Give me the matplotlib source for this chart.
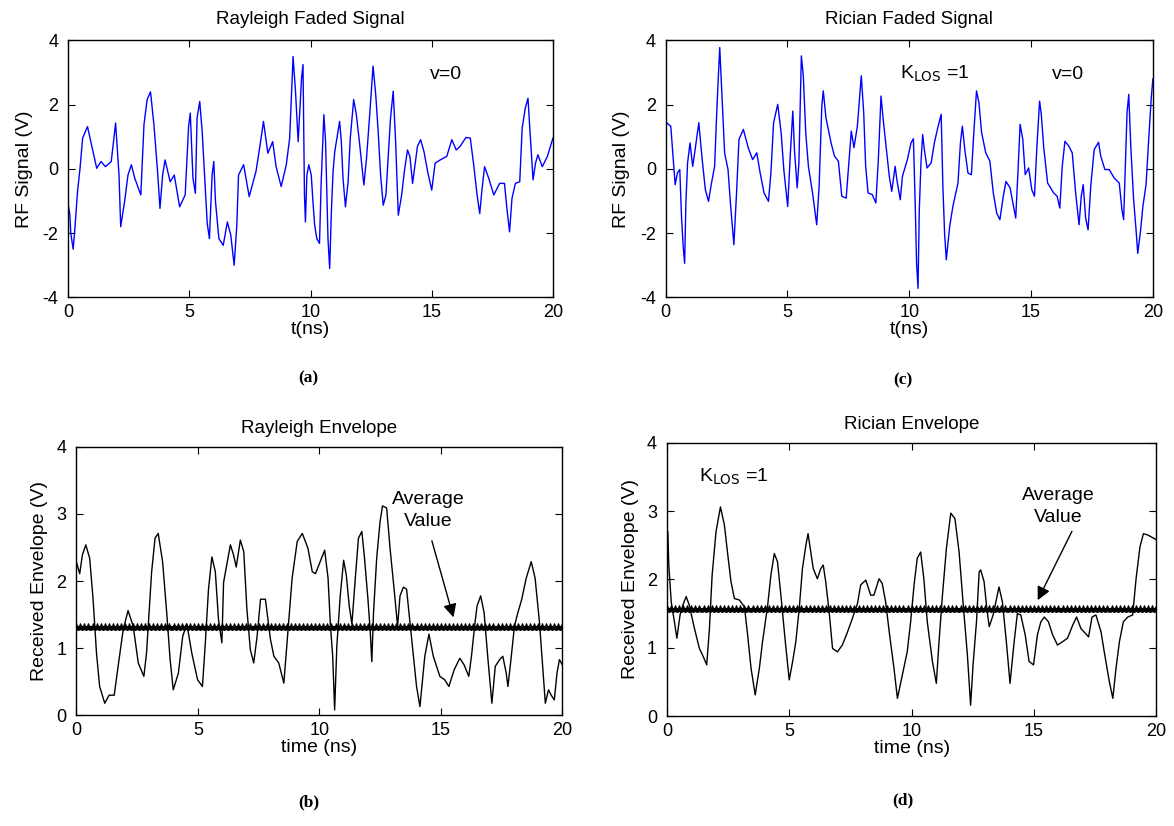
import numpy as np
import matplotlib.pyplot as plt

# ---------------- data ----------------
# (a) Rayleigh faded RF signal, v=0
ray_sig_t = [0.0, 0.07, 0.11, 0.21, 0.29, 0.39, 0.49, 0.6, 0.8, 1.01, 1.18, 1.36, 1.54, 1.78,
             1.96, 2.01, 2.1, 2.17, 2.33, 2.47, 2.61, 2.75, 3.0, 3.13, 3.26, 3.4, 3.54, 3.69,
             3.79, 3.9, 4.0, 4.21, 4.38, 4.6, 4.83, 4.97, 5.04, 5.15, 5.25, 5.32, 5.43, 5.53,
             5.74, 5.83, 5.94, 6.01, 6.08, 6.22, 6.4, 6.57, 6.71, 6.85, 6.96, 7.03, 7.24, 7.47,
             7.75, 7.92, 8.06, 8.24, 8.44, 8.58, 8.79, 9.0, 9.14, 9.28, 9.38, 9.49, 9.63, 9.69,
             9.75, 9.79, 9.85, 9.93, 10.03, 10.1, 10.17, 10.26, 10.37, 10.44, 10.51, 10.55,
             10.62, 10.72, 10.79, 10.86, 10.93, 11.0, 11.09, 11.2, 11.27, 11.34, 11.44, 11.55,
             11.64, 11.78, 11.89, 12.03, 12.2, 12.31, 12.45, 12.58, 12.69, 12.79, 12.89, 13.0,
             13.11, 13.21, 13.3, 13.41, 13.51, 13.62, 13.76, 13.87, 14.0, 14.1, 14.21, 14.31,
             14.41, 14.54, 14.68, 14.83, 15.0, 15.14, 15.35, 15.62, 15.83, 16.01, 16.17, 16.41,
             16.59, 16.73, 16.87, 16.98, 17.07, 17.18, 17.35, 17.56, 17.8, 18.0, 18.1, 18.21,
             18.31, 18.45, 18.63, 18.73, 18.86, 18.97, 19.07, 19.18, 19.28, 19.38, 19.56,
             19.77, 20.0]
ray_sig_v = [-1.1, -1.4, -2.0, -2.5, -1.75, -0.7, 0.0, 0.96, 1.32, 0.6, 0.02, 0.23, 0.07, 0.23,
             1.43, 0.85, -0.19, -1.8, -1.02, -0.19, 0.13, -0.29, -0.81, 1.38, 2.16, 2.4, 1.38,
             -0.08, -1.23, -0.19, 0.28, -0.4, -0.19, -1.18, -0.81, 1.32, 1.74, -0.29, -0.76,
             1.58, 2.1, 1.17, -1.7, -2.17, -0.19, 0.23, -1.02, -2.17, -2.38, -1.65, -2.06, -3.0,
             -1.75, -0.19, 0.13, -0.86, -0.08, 0.75, 1.48, 0.49, 0.85, 0.07, -0.55, 0.13, 0.96,
             3.5, 2.42, 0.85, 2.83, 3.25, -0.81, -1.65, -0.19, 0.13, -0.19, -1.02, -1.75,
             -2.17, -2.32, -0.4, 0.96, 1.69, 0.85, -2.17, -3.1, -1.33, -0.08, 0.54, 0.96, 1.48,
             0.85, -0.29, -1.18, -0.4, 0.96, 2.16, 1.69, 0.75, -0.5, 0.33, 1.79, 3.2, 2.31, 1.17,
             -0.19, -1.13, -0.81, 0.44, 1.58, 2.42, 0.85, -1.44, -0.81, -0.08, 0.59, 0.39, -0.45,
             0.13, 0.7, 0.91, 0.54, -0.08, -0.66, 0.18, 0.28, 0.39, 0.91, 0.59, 0.7, 0.98, 0.96,
             0.13, -0.81, -1.39, -0.66, 0.07, -0.29, -0.81, -0.45, -0.45, -1.23, -1.96, -0.92,
             -0.45, -0.4, 1.27, 1.9, 2.2, 0.96, -0.34, 0.18, 0.44, 0.07, 0.39, 0.96]

# (c) Rician faded RF signal, K_LOS=1, v=0
ric_sig_t = [0.0, 0.21, 0.3, 0.39, 0.48, 0.58, 0.65, 0.72, 0.78, 0.83, 0.9, 1.0, 1.11, 1.22,
             1.36, 1.5, 1.63, 1.76, 1.87, 2.01, 2.11, 2.22, 2.31, 2.42, 2.56, 2.67, 2.8, 2.91,
             3.01, 3.19, 3.39, 3.57, 3.74, 3.88, 4.04, 4.22, 4.32, 4.43, 4.6, 4.74, 4.85, 5.01,
             5.12, 5.22, 5.29, 5.4, 5.47, 5.57, 5.65, 5.75, 5.86, 6.03, 6.2, 6.3, 6.41, 6.47,
             6.58, 6.79, 6.93, 7.09, 7.23, 7.41, 7.51, 7.62, 7.73, 7.87, 8.03, 8.13, 8.21, 8.31,
             8.48, 8.63, 8.73, 8.84, 8.93, 9.07, 9.18, 9.28, 9.42, 9.49, 9.63, 9.72, 9.93,
             10.07, 10.17, 10.25, 10.3, 10.36, 10.41, 10.48, 10.55, 10.62, 10.73, 10.9, 11.03,
             11.17, 11.31, 11.38, 11.45, 11.52, 11.66, 11.79, 12.0, 12.1, 12.18, 12.28, 12.41,
             12.55, 12.65, 12.76, 12.86, 12.97, 13.14, 13.31, 13.45, 13.59, 13.72, 13.86, 13.97,
             14.14, 14.28, 14.37, 14.46, 14.55, 14.66, 14.76, 14.9, 15.03, 15.14, 15.24, 15.35,
             15.42, 15.52, 15.68, 15.93, 16.07, 16.18, 16.28, 16.39, 16.55, 16.69, 16.83, 16.97,
             17.06, 17.14, 17.24, 17.34, 17.45, 17.59, 17.77, 17.86, 18.03, 18.21, 18.41, 18.62,
             18.73, 18.8, 18.87, 18.94, 19.01, 19.1, 19.21, 19.31, 19.38, 19.49, 19.59, 19.72,
             19.82, 19.93, 20.0]
ric_sig_v = [1.46, 1.33, 0.4, -0.49, -0.13, -0.02, -1.48, -2.42, -2.94, -1.06, 0.19, 0.81, 0.08,
             0.66, 1.44, 0.29, -0.65, -1.01, -0.49, 0.08, 2.01, 3.78, 2.27, 0.5, -0.02, -1.17,
             -2.36, -0.75, 0.92, 1.23, 0.66, 0.29, 0.5, -0.13, -0.75, -1.01, -0.13, 1.44, 2.01,
             1.13, -0.02, -1.17, 0.5, 1.8, 0.55, -0.59, 0.19, 3.52, 2.9, 1.13, 0.08, -0.75, -1.74,
             -0.54, 1.96, 2.43, 1.59, 0.81, 0.4, 0.24, -0.85, -0.91, 0.08, 1.18, 0.66, 1.33, 2.9,
             1.75, 0.08, -0.75, -0.8, -1.06, 0.29, 2.27, 1.54, 0.55, -0.23, -0.7, 0.08, -0.33,
             -0.96, -0.23, 0.31, 0.81, 0.94, -1.27, -2.94, -3.72, -1.32, 0.19, 1.07, 0.6, 0.03,
             0.19, 0.81, 1.28, 1.7, -0.54, -2.0, -2.83, -1.79, -1.17, -0.44, 0.81, 1.33, 0.6,
             -0.13, -0.18, 1.13, 2.43, 2.06, 1.13, 0.5, 0.24, -0.75, -1.38, -1.58, -0.85, -0.39,
             -0.59, -1.17, -1.53, -0.13, 1.39, 0.92, -0.18, 0.03, -0.65, -0.85, 0.71, 2.11, 1.7,
             0.66, -0.44, -0.75, -0.85, -1.22, 0.08, 0.86, 0.71, 0.5, -0.75, -1.74, -0.85, -0.49,
             -1.53, -1.9, -0.54, 0.6, 0.83, 0.4, -0.02, -0.02, -0.28, -0.44, -1.27, -1.58, 0.08,
             1.75, 2.32, 0.6, -0.96, -1.9, -2.63, -1.95, -1.17, -0.49, 0.81, 2.17, 2.8]

# (b) Rayleigh envelope
ray_env_t = [0.0, 0.14, 0.25, 0.39, 0.55, 0.69, 0.83, 0.96, 1.17, 1.35, 1.56, 1.72, 1.93, 2.13,
             2.34, 2.55, 2.78, 2.89, 3.1, 3.24, 3.37, 3.55, 3.72, 3.86, 3.99, 4.2, 4.38, 4.55,
             4.75, 4.99, 5.19, 5.3, 5.44, 5.58, 5.72, 5.85, 5.99, 6.06, 6.2, 6.34, 6.47, 6.58,
             6.75, 6.89, 7.02, 7.16, 7.3, 7.44, 7.58, 7.78, 7.99, 8.13, 8.33, 8.54, 8.68, 8.88,
             9.09, 9.3, 9.53, 9.71, 9.84, 10.22, 10.36, 10.45, 10.55, 10.63, 10.72, 10.86, 11.0,
             11.11, 11.23, 11.34, 11.48, 11.61, 11.75, 11.86, 12.0, 12.09, 12.16, 12.23, 12.36,
             12.5, 12.6, 12.77, 12.91, 13.09, 13.22, 13.32, 13.46, 13.59, 13.73, 13.87, 14.0,
             14.14, 14.34, 14.51, 14.69, 14.96, 15.16, 15.33, 15.55, 15.78, 15.96, 16.15, 16.26,
             16.39, 16.49, 16.64, 16.78, 16.94, 17.1, 17.24, 17.42, 17.55, 17.69, 17.76, 17.87,
             18.03, 18.17, 18.33, 18.51, 18.72, 18.88, 19.06, 19.19, 19.3, 19.43, 19.54, 19.67,
             19.78, 19.88, 20.0]
ray_env_v = [2.29, 2.11, 2.39, 2.54, 2.34, 1.73, 0.93, 0.43, 0.18, 0.3, 0.3, 0.73, 1.28, 1.56,
             1.33, 0.78, 0.58, 0.93, 2.14, 2.64, 2.71, 2.29, 1.53, 0.83, 0.38, 0.63, 1.18, 1.36,
             0.93, 0.53, 0.43, 1.03, 1.88, 2.36, 2.14, 1.43, 1.08, 1.98, 2.26, 2.54, 2.39, 2.21,
             2.61, 2.44, 1.58, 0.98, 0.78, 1.18, 1.73, 1.73, 1.13, 0.88, 0.78, 0.48, 1.13, 2.04,
             2.59, 2.71, 2.49, 2.14, 2.11, 2.46, 2.04, 1.38, 0.88, 0.08, 1.03, 1.78, 2.31, 2.09,
             1.63, 1.36, 2.04, 2.64, 2.74, 2.34, 1.73, 1.28, 0.8, 1.53, 2.34, 2.89, 3.12, 3.09,
             2.49, 1.83, 1.33, 1.78, 1.91, 1.88, 1.38, 0.88, 0.43, 0.13, 0.88, 1.21, 0.88, 0.58,
             0.53, 0.43, 0.68, 0.85, 0.75, 0.58, 0.88, 1.33, 1.63, 1.78, 1.53, 0.83, 0.18, 0.73,
             0.83, 0.88, 0.63, 0.43, 0.78, 1.33, 1.53, 1.73, 2.04, 2.29, 2.04, 1.38, 0.73, 0.18,
             0.38, 0.3, 0.23, 0.63, 0.83, 0.75]
ray_env_mean = 1.31

# (d) Rician envelope, K_LOS=1
ric_env_t = [0.0, 0.04, 0.08, 0.18, 0.31, 0.41, 0.54, 0.65, 0.79, 0.92, 1.13, 1.33, 1.49, 1.63,
             1.74, 1.85, 2.01, 2.19, 2.35, 2.49, 2.62, 2.76, 2.96, 3.17, 3.3, 3.44, 3.61, 3.78,
             3.91, 4.12, 4.25, 4.39, 4.52, 4.66, 4.84, 5.0, 5.14, 5.27, 5.41, 5.54, 5.68, 5.77,
             5.88, 5.98, 6.15, 6.29, 6.39, 6.49, 6.63, 6.77, 6.97, 7.17, 7.38, 7.58, 7.79, 7.92,
             8.13, 8.33, 8.46, 8.67, 8.8, 8.94, 9.1, 9.28, 9.42, 9.62, 9.82, 9.96, 10.1, 10.23,
             10.37, 10.5, 10.64, 10.85, 11.01, 11.12, 11.26, 11.42, 11.6, 11.77, 11.94, 12.1,
             12.28, 12.41, 12.51, 12.65, 12.76, 12.82, 12.96, 13.07, 13.17, 13.33, 13.47, 13.57,
             13.71, 13.87, 14.02, 14.19, 14.32, 14.46, 14.64, 14.8, 14.98, 15.14, 15.28, 15.42,
             15.59, 15.76, 15.96, 16.17, 16.37, 16.58, 16.74, 16.92, 17.23, 17.37, 17.53, 17.74,
             17.87, 18.08, 18.22, 18.35, 18.49, 18.65, 18.83, 19.03, 19.17, 19.33, 19.47, 19.65,
             20.0]
ric_env_v = [2.7, 2.7, 2.21, 1.67, 1.38, 1.14, 1.48, 1.62, 1.75, 1.62, 1.28, 0.99, 0.87, 0.75,
             1.28, 2.06, 2.7, 3.06, 2.8, 2.36, 1.97, 1.72, 1.7, 1.6, 1.19, 0.7, 0.31, 0.7, 1.09,
             1.62, 2.06, 2.38, 2.26, 1.77, 1.09, 0.53, 0.8, 1.09, 1.58, 2.16, 2.5, 2.67, 2.4, 2.16,
             2.01, 2.16, 2.21, 1.97, 1.53, 0.99, 0.94, 1.04, 1.23, 1.43, 1.65, 1.92, 1.99, 1.77,
             1.77, 2.01, 1.94, 1.67, 1.19, 0.7, 0.26, 0.6, 0.94, 1.38, 1.92, 2.31, 2.4, 2.01,
             1.38, 0.8, 0.48, 1.09, 1.77, 2.45, 2.97, 2.89, 2.4, 1.67, 0.89, 0.16, 0.75, 1.38,
             2.11, 2.14, 1.97, 1.58, 1.31, 1.48, 1.72, 1.89, 1.67, 1.09, 0.48, 1.09, 1.5, 1.48,
             1.19, 0.8, 0.75, 1.19, 1.38, 1.45, 1.38, 1.19, 1.04, 1.09, 1.14, 1.33, 1.45, 1.28,
             1.16, 1.45, 1.48, 1.23, 0.94, 0.5, 0.26, 0.7, 1.09, 1.38, 1.45, 1.48, 2.01, 2.48,
             2.67, 2.65, 2.58]
ric_env_mean = 1.57

# sample instants used for the average-value line
t_samples = np.linspace(0, 20, 121)

# ---------------- figure ----------------
plt.rcParams['font.family'] = 'Liberation Sans'
plt.rcParams['axes.unicode_minus'] = False

fig = plt.figure(figsize=(11.74, 8.26), dpi=100)

ax_a = fig.add_axes([0.058, 0.640, 0.413, 0.311])
ax_c = fig.add_axes([0.567, 0.640, 0.415, 0.311])
ax_b = fig.add_axes([0.065, 0.134, 0.414, 0.325])
ax_d = fig.add_axes([0.568, 0.133, 0.417, 0.331])

TITLE_FS = 13.5
LABEL_FS = 14
TICK_FS = 13
NOTE_FS = 14


def style_axis(ax, ylim, yticks):
    ax.set_xlim(0, 20)
    ax.set_ylim(*ylim)
    ax.set_xticks([0, 5, 10, 15, 20])
    ax.set_yticks(yticks)
    ax.tick_params(direction='in', top=True, right=True, labelsize=TICK_FS, length=5)
    ax.tick_params(axis='y', pad=7)
    ax.tick_params(axis='x', pad=5)
    for s in ax.spines.values():
        s.set_linewidth(1.0)


# RF signals
ax_a.plot(ray_sig_t, ray_sig_v, color='#0000ff', lw=1.0)
style_axis(ax_a, (-4, 4), [-4, -2, 0, 2, 4])
ax_a.set_title('Rayleigh Faded Signal', fontsize=TITLE_FS, pad=12)
ax_a.set_xlabel('t(ns)', fontsize=LABEL_FS, labelpad=0)
ax_a.set_ylabel('RF Signal (V)', fontsize=LABEL_FS, labelpad=7)
ax_a.text(15.6, 2.95, 'v=0', fontsize=NOTE_FS, ha='center', va='center')

ax_c.plot(ric_sig_t, ric_sig_v, color='#0000ff', lw=1.0)
style_axis(ax_c, (-4, 4), [-4, -2, 0, 2, 4])
ax_c.set_title('Rician Faded Signal', fontsize=TITLE_FS, pad=12)
ax_c.set_xlabel('t(ns)', fontsize=LABEL_FS, labelpad=0)
ax_c.set_ylabel('RF Signal (V)', fontsize=LABEL_FS, labelpad=7)
ax_c.text(9.6, 2.95, r'K$_{\mathrm{LOS}}$ =1', fontsize=NOTE_FS, ha='left', va='center')
ax_c.text(16.5, 2.95, 'v=0', fontsize=NOTE_FS, ha='center', va='center')

# envelopes with their average value
ax_b.plot(ray_env_t, ray_env_v, color='black', lw=1.0)
ax_b.plot(t_samples, np.full_like(t_samples, ray_env_mean), color='black', lw=2.2,
          marker='*', ms=6, mew=0.8)
style_axis(ax_b, (0, 4), [0, 1, 2, 3, 4])
ax_b.set_title('Rayleigh Envelope', fontsize=TITLE_FS, pad=10)
ax_b.set_xlabel('time (ns)', fontsize=LABEL_FS, labelpad=0)
ax_b.set_ylabel('Received Envelope (V)', fontsize=LABEL_FS, labelpad=6)
ax_b.text(14.5, 3.05, 'Average\nValue', fontsize=NOTE_FS, ha='center', va='center',
          linespacing=1.35)
ax_b.annotate('', xy=(15.55, 1.42), xytext=(14.6, 2.64),
              arrowprops=dict(arrowstyle='-|>', color='black', lw=1.0,
                              mutation_scale=20))

ax_d.plot(ric_env_t, ric_env_v, color='black', lw=1.0)
ax_d.plot(t_samples, np.full_like(t_samples, ric_env_mean), color='black', lw=2.2,
          marker='*', ms=6, mew=0.8)
style_axis(ax_d, (0, 4), [0, 1, 2, 3, 4])
ax_d.set_title('Rician Envelope', fontsize=TITLE_FS, pad=10)
ax_d.set_xlabel('time (ns)', fontsize=LABEL_FS, labelpad=0)
ax_d.set_ylabel('Received Envelope (V)', fontsize=LABEL_FS, labelpad=6)
ax_d.text(1.3, 3.5, r'K$_{\mathrm{LOS}}$ =1', fontsize=NOTE_FS, ha='left', va='center')
ax_d.text(16.0, 3.07, 'Average\nValue', fontsize=NOTE_FS, ha='center', va='center',
          linespacing=1.35)
ax_d.annotate('', xy=(15.1, 1.66), xytext=(16.6, 2.74),
              arrowprops=dict(arrowstyle='-|>', color='black', lw=1.0,
                              mutation_scale=20))

# panel letters
for x, y, s in [(0.263, 0.542, '(a)'), (0.769, 0.540, '(c)'),
                (0.263, 0.028, '(b)'), (0.769, 0.031, '(d)')]:
    fig.text(x, y, s, fontsize=12.5, fontweight='bold', family='Liberation Serif',
             ha='center', va='center')

fig.savefig('out.png', dpi=100)
